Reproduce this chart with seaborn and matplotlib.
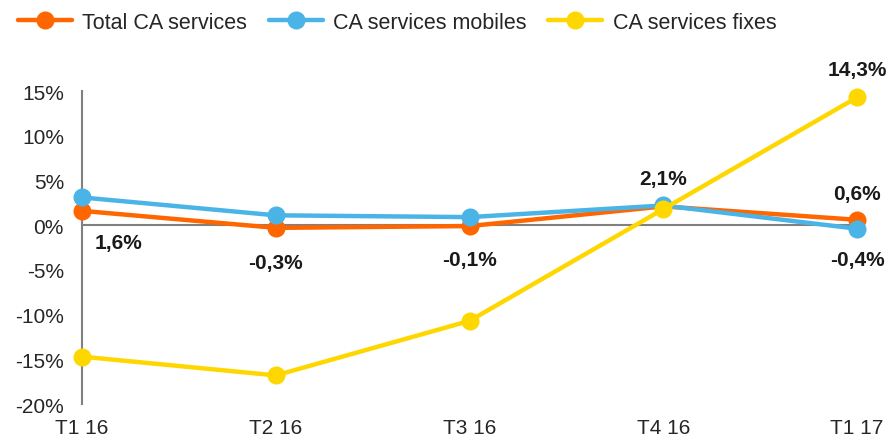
import matplotlib
matplotlib.use("Agg")
import matplotlib.pyplot as plt
import seaborn as sns
import pandas as pd

quarters = ["T1 16", "T2 16", "T3 16", "T4 16", "T1 17"]
total_ca = [1.6, -0.3, -0.1, 2.1, 0.6]
mobiles_ca = [3.1, 1.1, 0.9, 2.2, -0.4]
fixes_ca = [-14.7, -16.8, -10.7, 1.8, 14.3]

series_names = ["Total CA services", "CA services mobiles", "CA services fixes"]
series_colors = ["#FF6600", "#4BB4E6", "#FFD700"]

df = pd.DataFrame({
    "quarter": quarters * 3,
    "pos": list(range(len(quarters))) * 3,
    "value": total_ca + mobiles_ca + fixes_ca,
    "series": sum([[n] * len(quarters) for n in series_names], []),
})

sns.set_style("white")
plt.rcParams["font.family"] = ["Liberation Sans", "DejaVu Sans"]

fig = plt.figure(figsize=(8.88, 4.39), dpi=100)
ax = fig.add_axes([0.0923, 0.0774, 0.873, 0.713])

ax.axhline(0, color="#808080", lw=1.5, zorder=1)

for name, color in zip(series_names, series_colors):
    sub = df[df["series"] == name]
    sns.lineplot(data=sub, x="pos", y="value", ax=ax, color=color, lw=3.2,
                 marker="o", markersize=13, markeredgewidth=0, label=name,
                 zorder=3)

ax.set_xlim(0, len(quarters) - 1)
ax.set_ylim(-20, 15)
ax.set_yticks(range(-20, 16, 5))
ax.set_yticklabels([f"{v}%" for v in range(-20, 16, 5)], fontsize=15)
ax.set_xticks(range(len(quarters)))
ax.set_xticklabels(quarters, fontsize=15)
ax.tick_params(axis="x", length=0, pad=10)
ax.tick_params(axis="y", length=5, width=1.5, color="#808080", direction="out", pad=8)
ax.set_xlabel("")
ax.set_ylabel("")
for s in ["top", "right", "bottom"]:
    ax.spines[s].set_visible(False)
ax.spines["left"].set_color("#808080")
ax.spines["left"].set_linewidth(1.5)
for ln in ax.lines:
    ln.set_clip_on(False)

# value labels (offsets in points)
labels = [
    (0, total_ca[0], "1,6%", 26, -23),
    (1, total_ca[1], "-0,3%", 0, -25),
    (2, total_ca[2], "-0,1%", 0, -24),
    (3, total_ca[3], "2,1%", 0, 20),
    (4, total_ca[4], "0,6%", 0, 19),
    (4, mobiles_ca[4], "-0,4%", 0, -22),
    (4, fixes_ca[4], "14,3%", 0, 20),
]
for x, y, txt, dx, dy in labels:
    ax.annotate(txt, (x, y), xytext=(dx, dy), textcoords="offset points",
                ha="center", va="center", fontsize=15, fontweight="bold",
                color="#1a1a1a", annotation_clip=False)

ax.get_legend().remove()
handles, lbls = ax.get_legend_handles_labels()
fig.legend(handles, lbls, loc="upper left", bbox_to_anchor=(0.003, 1.005), ncol=3,
           frameon=False, fontsize=15.5, handlelength=2.5, handletextpad=0.5,
           columnspacing=1.0, borderaxespad=0.3)

fig.savefig("out.png", dpi=100)
